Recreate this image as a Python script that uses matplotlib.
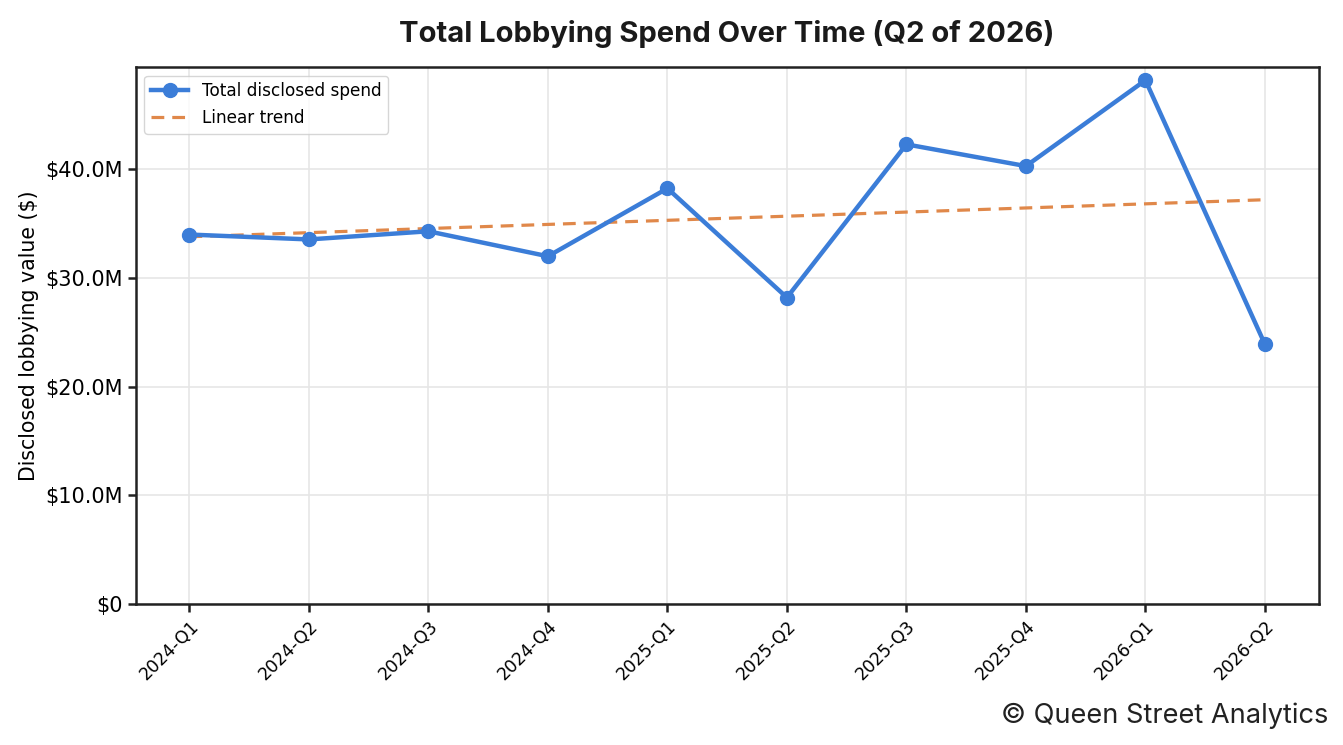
import numpy as np
import matplotlib.pyplot as plt
from matplotlib.ticker import FuncFormatter

plt.rcParams["font.family"] = ["DejaVu Sans"]

quarters = ["2024-Q1", "2024-Q2", "2024-Q3", "2024-Q4", "2025-Q1",
            "2025-Q2", "2025-Q3", "2025-Q4", "2026-Q1", "2026-Q2"]
spend_m = [34.0, 33.55, 34.3, 32.0, 38.25, 28.2, 42.3, 40.3, 48.2, 23.9]

x = np.arange(len(quarters))
y = np.array(spend_m) * 1e6

# linear trend over the quarters
slope, intercept = np.polyfit(x, y, 1)
trend = slope * x + intercept

fig = plt.figure(figsize=(13.43, 7.45), dpi=100)
ax = fig.add_axes([0.101, 0.1893, 0.8809, 0.7207])

ax.plot(x, y, color="#3b7dd8", linewidth=3.2, marker="o", markersize=10,
        label="Total disclosed spend", zorder=3)
ax.plot(x, trend, color="#e0884a", linewidth=2.3, linestyle=(0, (4, 2.5)),
        label="Linear trend", zorder=2)

ax.set_ylim(bottom=0)
ax.yaxis.set_major_formatter(FuncFormatter(
    lambda v, p: "$0" if v == 0 else "${:.1f}M".format(v / 1e6)))
ax.set_xticks(x)
ax.set_xticklabels(quarters, rotation=45, ha="right", rotation_mode="anchor",
                   fontsize=12.5)
ax.tick_params(axis="y", labelsize=15)
ax.tick_params(length=6, width=1.8, color="#222222")

ax.grid(True, color="#e6e6e6", linewidth=1.2)
ax.set_axisbelow(True)
for s in ax.spines.values():
    s.set_color("#222222")
    s.set_linewidth(1.8)

ax.set_ylabel("Disclosed lobbying value ($)", fontsize=14.8)
ax.set_title("Total Lobbying Spend Over Time (Q2 of 2026)", fontsize=21,
             fontweight="bold", family="Inter", pad=18, color="#1a1a1a")

ax.legend(loc="upper left", fontsize=12.2, frameon=True, edgecolor="#cccccc",
          handlelength=2.2, borderaxespad=0.5)

fig.text(0.989, 0.022, "\u00a9 Queen Street Analytics", ha="right", va="bottom",
         fontsize=19.6, family="Inter", color="#222222")

fig.savefig("out.png", dpi=100)
